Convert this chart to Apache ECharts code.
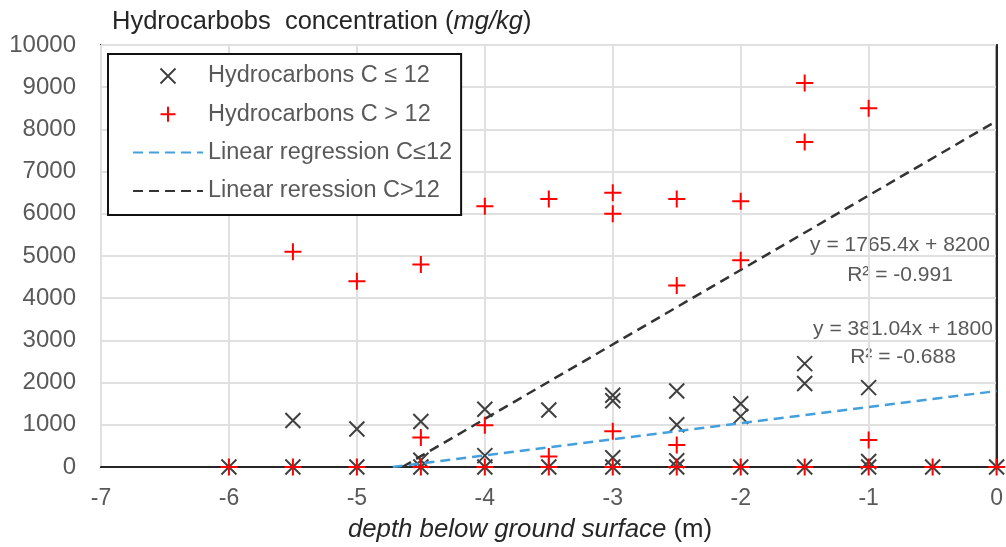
<!DOCTYPE html>
<html>
<head>
<meta charset="utf-8">
<script src="https://cdn.jsdelivr.net/npm/echarts@6/dist/echarts.min.js"></script>
<style>
html,body{margin:0;padding:0;background:#fff;}
#chart{width:1006px;height:547px;}
</style>
</head>
<body>
<div id="chart"></div>
<script>
// ---- data ----
const depths = [-6, -5.5, -5, -4.5, -4, -3.5, -3, -2.5, -2, -1.5, -1, -0.5, 0];
const lightValues = [[0], [1100, 0], [900, 0], [1080, 160, 0], [1370, 270, 0], [1350, 0],
  [1700, 1570, 220, 0], [1800, 1000, 150, 0], [1500, 1200, 0], [2450, 1980, 0], [1880, 130, 0], [0], [0]];
const heavyValues = [[0], [5100, 0], [4400, 0], [4800, 700, 0], [6180, 990, 0], [6350, 250, 0],
  [6500, 6000, 850, 0], [6350, 4300, 520, 0], [6300, 4900, 0], [9100, 7700, 0], [8500, 640, 0], [0], [0]];
const trendLight = [[-4.72, 0], [0, 1800]];
const trendHeavy = [[-4.645, 0], [0, 8200]];
const seriesNames = ['Hydrocarbons C \u2264 12', 'Hydrocarbons C > 12', 'Linear regression C\u226412', 'Linear reression C>12'];
const eqHeavy = ['y = 1765.4x + 8200', 'R\u00b2 = -0.991'];
const eqLight = ['y = 381.04x + 1800', 'R\u00b2 = -0.688'];
const xTicks = {min: -7, max: 0, interval: 1};
const yTicks = {min: 0, max: 10000, interval: 1000};

function flatten(xs, vals) {
  const out = [];
  xs.forEach((x, i) => vals[i].forEach(v => out.push([x, v])));
  return out;
}

const FONT = '"Liberation Sans", Arial, sans-serif';
const GRAY = '#595959';
const DARK = '#262626';
const crossPath = 'path://M0,0L10,10M10,0L0,10';
const plusPath = 'path://M5,0L5,10M0,5L10,5';
const hidden = {color: 'rgba(0,0,0,0)', borderColor: 'rgba(0,0,0,0)', borderWidth: 0};

const chart = echarts.init(document.getElementById('chart'), null, {renderer: 'canvas'});
chart.setOption({
  animation: false,
  backgroundColor: '#fff',
  textStyle: {fontFamily: FONT},
  title: {
    text: '{n|Hydrocarbobs  concentration (}{i|mg/kg}{n|)}',
    left: 112, top: 9, padding: 0,
    textStyle: {
      fontWeight: 'normal',
      rich: {
        n: {fontFamily: FONT, fontSize: 25.5, color: DARK, fontWeight: 'normal'},
        i: {fontFamily: FONT, fontSize: 25.5, color: DARK, fontWeight: 'normal', fontStyle: 'italic'}
      }
    }
  },
  grid: {
    left: 101, right: 5, top: 45, bottom: 80,
    show: true, borderColor: DARK, borderWidth: 2, backgroundColor: 'transparent'
  },
  legend: {
    orient: 'vertical',
    left: 108, top: 54,
    padding: [10, 9, 12, 24],
    backgroundColor: '#fff',
    borderColor: '#111', borderWidth: 2,
    itemWidth: 70, itemHeight: 15, itemGap: 14.3,
    textStyle: {fontFamily: FONT, fontSize: 23.5, color: GRAY, lineHeight: 22},
    data: [
      {name: seriesNames[0], itemStyle: {borderWidth: 2, borderColor: '#404040', color: '#404040'}},
      {name: seriesNames[1], itemStyle: {borderWidth: 2, borderColor: '#ff0000', color: '#ff0000'}},
      {name: seriesNames[2], itemStyle: hidden},
      {name: seriesNames[3], itemStyle: hidden}
    ]
  },
  xAxis: {
    type: 'value', min: xTicks.min, max: xTicks.max, interval: xTicks.interval,
    axisLine: {show: true, onZero: false, lineStyle: {color: DARK, width: 2}},
    axisTick: {show: false},
    splitLine: {show: true, lineStyle: {color: '#e0e0e0', width: 2}},
    axisLabel: {fontFamily: FONT, fontSize: 23, color: GRAY, margin: 20, formatter: v => String(v)}
  },
  yAxis: {
    type: 'value', min: yTicks.min, max: yTicks.max, interval: yTicks.interval,
    axisLine: {show: true, lineStyle: {color: DARK, width: 2}},
    axisTick: {show: false},
    splitLine: {show: true, lineStyle: {color: '#e0e0e0', width: 2}},
    axisLabel: {fontFamily: FONT, fontSize: 24, color: GRAY, margin: 25, formatter: v => String(v)}
  },
  series: [
    {
      name: seriesNames[0], type: 'scatter',
      symbol: crossPath, symbolSize: 15,
      itemStyle: {color: '#404040', borderColor: '#404040', borderWidth: 2, opacity: 1},
      data: flatten(depths, lightValues), z: 3
    },
    {
      name: seriesNames[2], type: 'line', symbol: 'none',
      itemStyle: {color: '#44a0dc'},
      lineStyle: {color: '#44a0dc', width: 2.5, type: [10, 6]},
      data: trendLight, z: 4
    },
    {
      name: seriesNames[3], type: 'line', symbol: 'none',
      itemStyle: {color: '#333333'},
      lineStyle: {color: '#333333', width: 2.5, type: [10, 6]},
      data: trendHeavy, z: 4
    },
    {
      name: seriesNames[1], type: 'scatter',
      symbol: plusPath, symbolSize: 17,
      itemStyle: {color: '#ff0000', borderColor: '#ff0000', borderWidth: 2, opacity: 1},
      data: flatten(depths, heavyValues), z: 5
    }
  ],
  graphic: [
    {type: 'text', x: 530, y: 530, style: {
      text: '{i|depth below ground surface }{n|(m)}', align: 'center', verticalAlign: 'middle',
      rich: {
        i: {fontFamily: FONT, fontSize: 25.8, fill: DARK, fontStyle: 'italic'},
        n: {fontFamily: FONT, fontSize: 25.8, fill: DARK}
      }
    }},
    {type: 'text', x: 900, y: 245, style: {text: eqHeavy[0], fill: GRAY, font: '21px ' + FONT, align: 'center', verticalAlign: 'middle'}},
    {type: 'text', x: 900, y: 275, style: {text: eqHeavy[1], fill: GRAY, font: '21px ' + FONT, align: 'center', verticalAlign: 'middle'}},
    {type: 'text', x: 903, y: 329, style: {text: eqLight[0], fill: GRAY, font: '21px ' + FONT, align: 'center', verticalAlign: 'middle'}},
    {type: 'text', x: 903, y: 357, style: {text: eqLight[1], fill: GRAY, font: '21px ' + FONT, align: 'center', verticalAlign: 'middle'}}
  ]
});
</script>
</body>
</html>
